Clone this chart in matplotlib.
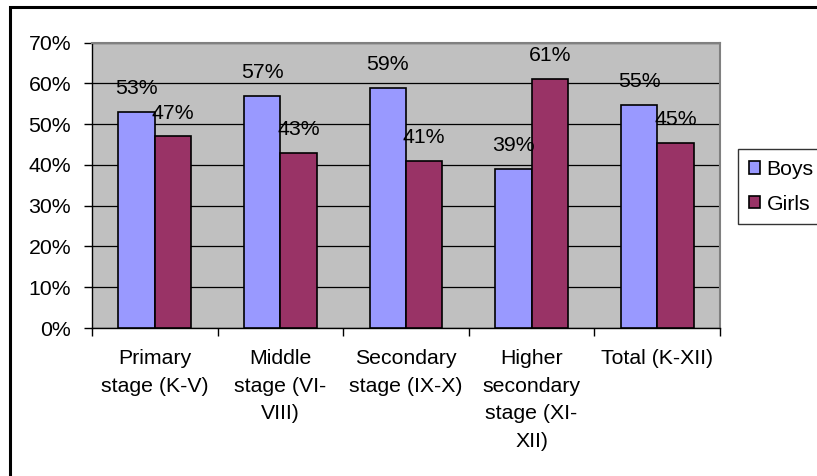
import matplotlib.pyplot as plt
import numpy as np
from matplotlib.patches import Rectangle

plt.rcParams['font.family'] = ['Liberation Sans', 'DejaVu Sans']

categories = ["Primary\nstage (K-V)", "Middle\nstage (VI-\nVIII)", "Secondary\nstage (IX-X)",
              "Higher\nsecondary\nstage (XI-\nXII)", "Total (K-XII)"]
boys = [53, 57, 59, 39, 54.7]
girls = [47, 43, 41, 61, 45.3]
boys_labels = ["53%", "57%", "59%", "39%", "55%"]
girls_labels = ["47%", "43%", "41%", "61%", "45%"]

fs = 15.3

fig = plt.figure(figsize=(8.17, 4.76), dpi=100)
ax = fig.add_axes([92/817, 1 - 328/476, (720 - 92)/817, (328 - 42.7)/476])

# outer chart frame (cut off at right and bottom)
fig.patches.append(Rectangle((10/817, -0.05), 1.0, 1 - 7/476 + 0.05, transform=fig.transFigure,
                             fill=False, edgecolor='black', linewidth=2.2))

x = np.arange(len(categories))
w = 0.29
ax.set_facecolor('#C0C0C0')
b1 = ax.bar(x - w/2, boys, w, color='#9999FF', edgecolor='black', linewidth=1.2, label='Boys', zorder=3)
b2 = ax.bar(x + w/2, girls, w, color='#993366', edgecolor='black', linewidth=1.2, label='Girls', zorder=3)

for xi, v, t in zip(x - w/2, boys, boys_labels):
    ax.annotate(t, (xi, v), xytext=(0, 10), textcoords='offset points', ha='center', va='bottom', fontsize=fs, zorder=4)
for xi, v, t in zip(x + w/2, girls, girls_labels):
    ax.annotate(t, (xi, v), xytext=(0, 10), textcoords='offset points', ha='center', va='bottom', fontsize=fs, zorder=4)

ax.set_xlim(-0.5, len(categories) - 0.5)
ax.set_ylim(0, 70)
ax.set_yticks(np.arange(0, 71, 10))
ax.set_yticklabels([f"{v}%" for v in range(0, 71, 10)], fontsize=fs)
ax.yaxis.grid(True, color='black', linewidth=0.9, zorder=1)
ax.set_axisbelow(True)

ax.set_xticks(np.arange(-0.5, len(categories), 1.0))
ax.set_xticklabels([])
ax.set_xticks(x, minor=True)
ax.set_xticklabels(categories, minor=True, fontsize=fs, linespacing=1.58)
ax.tick_params(axis='x', which='minor', length=0, pad=15)
ax.tick_params(axis='x', which='major', length=6, width=1, color='black')
ax.tick_params(axis='y', length=6, width=1, pad=9)

ax.spines['top'].set_color('#808080')
ax.spines['right'].set_color('#808080')
ax.spines['top'].set_linewidth(1.5)
ax.spines['right'].set_linewidth(1.5)
ax.spines['left'].set_linewidth(1)
ax.spines['bottom'].set_linewidth(1)

leg = fig.legend(handles=[b1, b2], loc='upper left', bbox_to_anchor=(738/817, 1 - 149/476),
                 fontsize=fs, frameon=True, fancybox=False, edgecolor='black',
                 handlelength=0.55, handleheight=0.55, handletextpad=0.3, borderpad=0.5, labelspacing=0.75,
                 borderaxespad=0)
leg.get_frame().set_linewidth(1)

fig.savefig('out.png', dpi=100)
